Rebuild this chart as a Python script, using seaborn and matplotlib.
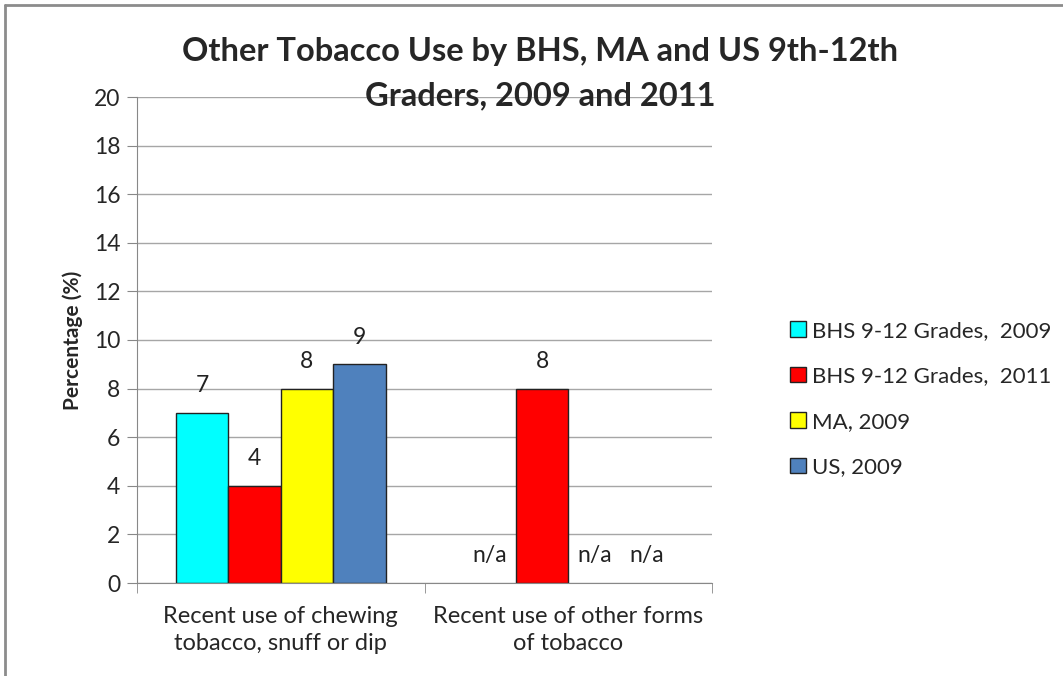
import matplotlib
matplotlib.use("Agg")
import matplotlib.pyplot as plt
from matplotlib.lines import Line2D
from matplotlib.patches import Patch
import numpy as np
import pandas as pd
import seaborn as sns

# chart data
categories = ["Recent use of chewing\ntobacco, snuff or dip", "Recent use of other forms\nof tobacco"]
series = ["BHS 9-12 Grades,  2009", "BHS 9-12 Grades,  2011", "MA, 2009", "US, 2009"]
bhs_2009 = [7, np.nan]
bhs_2011 = [4, 8]
ma_2009 = [8, np.nan]
us_2009 = [9, np.nan]
colors = ["#00ffff", "#ff0000", "#ffff00", "#4f81bd"]

values = [bhs_2009, bhs_2011, ma_2009, us_2009]
rows = []
for name, vals in zip(series, values):
    for cat, v in zip(categories, vals):
        rows.append({"category": cat, "series": name, "value": v})
df = pd.DataFrame(rows)
df["plotval"] = df["value"].fillna(0)

sns.set_style("white")
plt.rcParams["font.family"] = ["Lato", "DejaVu Sans"]

fig = plt.figure(figsize=(10.63, 6.76), dpi=100)
ax = fig.add_axes([137 / 1063, 1 - 583 / 676, 575 / 1063, 486 / 676])

sns.barplot(data=df, x="category", y="plotval", hue="series", hue_order=series,
            palette=colors, saturation=1, width=0.73, edgecolor="#222222", linewidth=1,
            errorbar=None, ax=ax, legend=False)

# value labels and n/a markers
for cont, vals in zip(ax.containers, values):
    for patch, v in zip(cont.patches, vals):
        xc = patch.get_x() + patch.get_width() / 2
        if np.isnan(v):
            patch.set_visible(False)
            ax.annotate("n/a", (xc, 0), xytext=(0, 12), textcoords="offset points",
                        ha="center", va="bottom", fontsize=16.5, color="#222222")
        else:
            ax.annotate(f"{v:g}", (xc, v), xytext=(0, 12), textcoords="offset points",
                        ha="center", va="bottom", fontsize=16.5, color="#222222")

ax.set_ylim(0, 20)
ax.set_xlim(-0.5, 1.5)
ax.set_yticks(range(0, 21, 2))
ax.yaxis.grid(True, color="#a6a6a6", linewidth=1)
ax.set_axisbelow(True)
for s in ["top", "right"]:
    ax.spines[s].set_visible(False)
for s in ["left", "bottom"]:
    ax.spines[s].set_color("#888888")
ax.tick_params(axis="y", left=True, length=7, color="#888888", labelsize=16.5, pad=5)
ax.set_xticks([-0.5, 0.5, 1.5], minor=True)
ax.tick_params(axis="x", which="minor", bottom=True, length=7, color="#888888")
ax.tick_params(axis="x", which="major", bottom=False, labelsize=17, pad=13)
for lbl in ax.get_xticklabels():
    lbl.set_linespacing(1.35)
ax.set_xlabel("")
ax.set_ylabel("Percentage (%)", fontsize=15, fontweight="bold", labelpad=8)

fig.text(540 / 1063, 1 - 74 / 676, "Other Tobacco Use by BHS, MA and US 9th-12th\nGraders, 2009 and 2011",
         ha="center", va="center", fontsize=23.5, fontweight="bold", linespacing=1.65)

handles = [Patch(facecolor=c, edgecolor="#222222", linewidth=1) for c in colors]
fig.legend(handles, series, loc="center left", bbox_to_anchor=(770 / 1063, 1 - 399 / 676),
           frameon=False, fontsize=16, labelspacing=1.15, handlelength=0.7, handleheight=0.7,
           handletextpad=0.3)

# outer chart frame
fig.add_artist(Line2D([5 / 1063, 1], [1 - 5 / 676, 1 - 5 / 676], color="#8c8c8c", linewidth=2))
fig.add_artist(Line2D([5 / 1063, 5 / 1063], [0, 1 - 5 / 676], color="#8c8c8c", linewidth=2))

fig.savefig("out.png", dpi=100)
